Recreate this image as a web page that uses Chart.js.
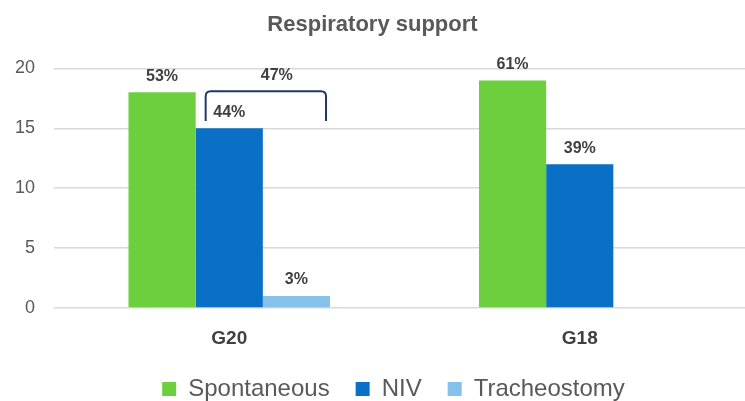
<!DOCTYPE html>
<html>
<head>
<meta charset="utf-8">
<script src="https://cdn.jsdelivr.net/npm/chart.js@4/dist/chart.umd.min.js"></script>
<style>
  html, body { margin: 0; padding: 0; background: #fff; overflow: hidden; }
  #wrap { width: 745px; height: 401px; overflow: hidden; }
</style>
</head>
<body>
<div id="wrap"><canvas id="chart" width="755" height="401"></canvas></div>
<script>
// chart data
const groups = ["G20", "G18"];
const spontaneous = [18, 19];
const niv = [15, 12];
const tracheostomy = [1, null];
const spontaneousPct = ["53%", "61%"];
const nivPct = ["44%", "39%"];
const tracheostomyPct = ["3%", null];
const combinedLabel = "47%"; // NIV + Tracheostomy in G20
const yTicks = [0, 5, 10, 15, 20];

const FONT = "'Liberation Sans', Arial, sans-serif";
const pctLabels = [spontaneousPct, nivPct, tracheostomyPct];

// draws the % labels over bars and the bracket
const labelPlugin = {
  id: "barLabels",
  afterLayout(chart) {
    // nudge legend/title to where they sit in the picture
    chart.legend.left += 16;
    chart.legend.right += 16;
    chart.titleBlock.left -= 5;
    chart.titleBlock.right -= 5;
  },
  afterDatasetsDraw(chart) {
    const ctx = chart.ctx;
    const yScale = chart.scales.y;
    ctx.save();
    ctx.font = "bold 16px " + FONT;
    ctx.fillStyle = "#404040";
    ctx.textAlign = "center";
    ctx.textBaseline = "middle";
    chart.data.datasets.forEach((ds, i) => {
      chart.getDatasetMeta(i).data.forEach((bar, j) => {
        const txt = pctLabels[i][j];
        if (!txt) return;
        ctx.fillText(txt, bar.x, bar.y - 16);
      });
    });

    // bracket over NIV + Tracheostomy for G20
    const nivBar = chart.getDatasetMeta(1).data[0];
    const trBar = chart.getDatasetMeta(2).data[0];
    const left = nivBar.x - nivBar.width / 2 + 10;
    const right = trBar.x + trBar.width / 2 - 4;
    const top = yScale.getPixelForValue(18.1);
    const bottom = yScale.getPixelForValue(15.6);
    const r = 5;
    ctx.strokeStyle = "#203864";
    ctx.lineWidth = 2;
    ctx.beginPath();
    ctx.moveTo(left, bottom);
    ctx.lineTo(left, top + r);
    ctx.quadraticCurveTo(left, top, left + r, top);
    ctx.lineTo(right - r, top);
    ctx.quadraticCurveTo(right, top, right, top + r);
    ctx.lineTo(right, bottom);
    ctx.stroke();
    ctx.fillText(combinedLabel, (left + right) / 2 + 11, yScale.getPixelForValue(19.4));
    ctx.restore();
  }
};

new Chart(document.getElementById("chart"), {
  type: "bar",
  data: {
    labels: groups,
    datasets: [
      { label: "Spontaneous", data: spontaneous, backgroundColor: "#6ECF3E" },
      { label: "NIV", data: niv, backgroundColor: "#0A70C6" },
      { label: "Tracheostomy", data: tracheostomy, backgroundColor: "#85C1EA" }
    ]
  },
  options: {
    responsive: false,
    animation: false,
    layout: { padding: { left: 0, right: 0, top: 0, bottom: -10 } },
    datasets: {
      bar: { categoryPercentage: 0.575, barPercentage: 1.0 }
    },
    plugins: {
      tooltip: { enabled: false },
      title: {
        display: true,
        text: "Respiratory support",
        color: "#595959",
        font: { family: FONT, size: 22, weight: "bold" },
        padding: { top: 12, bottom: 30 }
      },
      legend: {
        position: "bottom",
        labels: {
          color: "#595959",
          font: { family: FONT, size: 24 },
          boxWidth: 14,
          boxHeight: 14,
          padding: 26
        }
      }
    },
    scales: {
      x: {
        grid: { display: false },
        border: { display: false },
        afterFit(scale) {
          scale.height = 43;
        },
        ticks: {
          color: "#404040",
          font: { family: FONT, size: 19, weight: "bold" },
          padding: 11
        }
      },
      y: {
        min: 0,
        max: 20,
        afterBuildTicks(scale) {
          scale.ticks = yTicks.map(v => ({ value: v }));
        },
        afterFit(scale) {
          scale.width = 54;
        },
        grid: { color: "#d9d9d9", lineWidth: 1.5, drawTicks: false },
        border: { display: false },
        ticks: {
          color: "#595959",
          font: { family: FONT, size: 18 },
          padding: 19
        }
      }
    }
  },
  plugins: [labelPlugin]
});
</script>
</body>
</html>
